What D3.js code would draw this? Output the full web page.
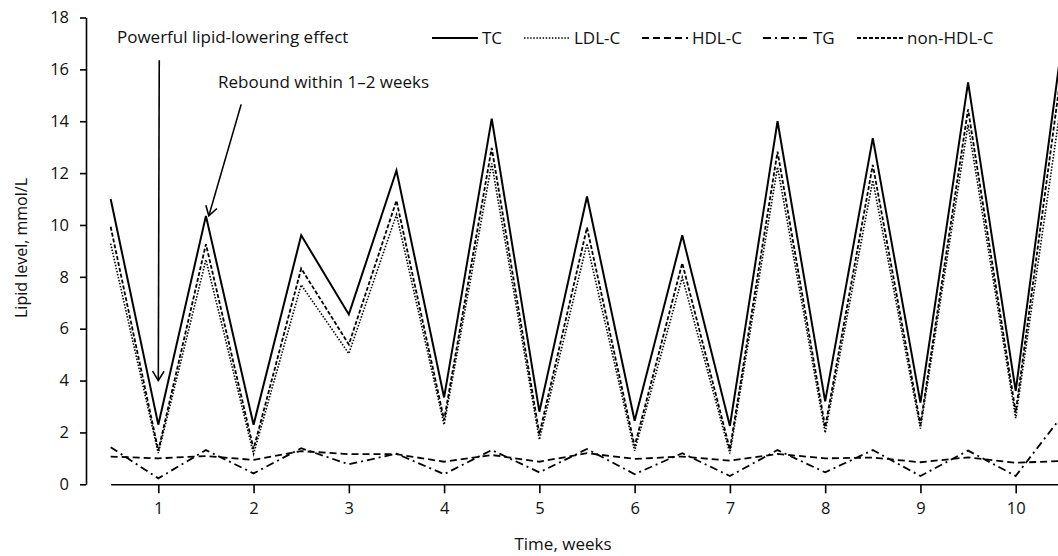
<!DOCTYPE html>
<html>
<head>
<meta charset="utf-8">
<script src="https://cdn.jsdelivr.net/npm/d3@7"></script>
<style>
  html, body { margin: 0; padding: 0; background: #fff; overflow: hidden; }
  svg { display: block; }
  text { font-family: "Open Sans", Lato, sans-serif; fill: #111; }
</style>
</head>
<body>
<svg id="chart" width="1058" height="556"></svg>
<script>
// ---- Data ----
const weeks = [0.5, 1, 1.5, 2, 2.5, 3, 3.5, 4, 4.5, 5, 5.5, 6, 6.5, 7, 7.5, 8, 8.5, 9, 9.5, 10, 10.5];
const tc     = [11.0, 2.3, 10.35, 2.3, 9.6, 6.55, 12.1, 3.35, 14.1, 2.8, 11.1, 2.45, 9.6, 2.25, 14.0, 3.2, 13.35, 3.15, 15.5, 3.6, 17.4];
const ldl    = [9.28, 1.2, 8.66, 1.17, 7.69, 5.04, 10.4, 2.3, 12.37, 1.72, 9.28, 1.29, 7.98, 1.19, 12.23, 1.99, 11.72, 2.15, 13.87, 2.55, 15.3];
const hdl    = [1.07, 1.0, 1.09, 0.94, 1.28, 1.16, 1.16, 0.87, 1.13, 0.87, 1.2, 0.98, 1.07, 0.91, 1.17, 1.0, 1.03, 0.85, 1.04, 0.83, 0.9];
const tg     = [1.43, 0.23, 1.32, 0.42, 1.39, 0.77, 1.18, 0.39, 1.32, 0.46, 1.36, 0.39, 1.2, 0.32, 1.32, 0.46, 1.32, 0.32, 1.3, 0.32, 2.7];
const nonHdl = [9.93, 1.3, 9.26, 1.36, 8.32, 5.39, 10.94, 2.48, 12.97, 1.93, 9.9, 1.47, 8.53, 1.34, 12.83, 2.2, 12.32, 2.3, 14.46, 2.77, 16.5];
const xTicks = [1, 2, 3, 4, 5, 6, 7, 8, 9, 10];
const yTicks = [0, 2, 4, 6, 8, 10, 12, 14, 16, 18];
const seriesNames = ["TC", "LDL-C", "HDL-C", "TG", "non-HDL-C"];

// annotations: [x (week), y (mmol/L)] anchors
const ann1 = { text: "Powerful lipid-lowering effect", tx: 0.566, ty: 17.0, from: [1.01, 16.35], to: [1.0, 4.0] };
const ann2 = { text: "Rebound within 1\u20132 weeks", tx: 1.627, ty: 15.28, from: [1.87, 14.65], to: [1.53, 10.35] };

// ---- Styles ----
const styles = {
  "TC":        { w: 2.0, dash: null },
  "LDL-C":     { w: 1.6, dash: "1.5,1.6" },
  "HDL-C":     { w: 1.8, dash: "7,4" },
  "TG":        { w: 1.8, dash: "8,4,2,4" },
  "non-HDL-C": { w: 1.8, dash: "4,2" }
};
const values = { "TC": tc, "LDL-C": ldl, "HDL-C": hdl, "TG": tg, "non-HDL-C": nonHdl };

const svg = d3.select("#chart");

const x = d3.scaleLinear().domain([1, 10]).range([158.3, 1015.7]);
const y = d3.scaleLinear().domain([0, 18]).range([484.3, 17.5]);

const tickFont = "16.5px";
const textFont = "17px";

// Y axis
const yAxisG = svg.append("g")
  .attr("transform", "translate(86,0)")
  .call(d3.axisLeft(y).tickValues(yTicks).tickSize(6).tickSizeOuter(0).tickPadding(11));
yAxisG.select(".domain").attr("stroke", "#000").attr("stroke-width", 1.6);
yAxisG.selectAll(".tick line").attr("stroke", "#000").attr("stroke-width", 1.6);
yAxisG.selectAll(".tick text").style("font-family", '"Open Sans", sans-serif').style("font-size", tickFont).attr("fill", "#111");

// X axis
const xAxisScale = d3.scaleLinear().domain([0.5, 10.5]).range([x(0.5), x(10.5)]);
const xAxisG = svg.append("g")
  .attr("transform", `translate(0,${y(0)})`)
  .call(d3.axisBottom(xAxisScale).tickValues(xTicks).tickSize(9).tickSizeOuter(0).tickPadding(9).tickFormat(d3.format("d")));
xAxisG.select(".domain").attr("stroke", "#000").attr("stroke-width", 1.6);
xAxisG.selectAll(".tick line").attr("stroke", "#000").attr("stroke-width", 1.6);
xAxisG.selectAll(".tick text").style("font-family", '"Open Sans", sans-serif').style("font-size", tickFont).attr("fill", "#111");

// Axis titles
svg.append("text")
  .attr("x", 563).attr("y", 550)
  .attr("text-anchor", "middle")
  .style("font-size", textFont)
  .text("Time, weeks");
svg.append("text")
  .attr("transform", `translate(27,${248}) rotate(-90)`)
  .attr("text-anchor", "middle")
  .style("font-size", "16px")
  .text("Lipid level, mmol/L");

// Lines
const line = d3.line().x((d, i) => x(weeks[i])).y(d => y(d));
const drawOrder = ["HDL-C", "TG", "LDL-C", "non-HDL-C", "TC"];
drawOrder.forEach(name => {
  const s = styles[name];
  svg.append("path")
    .datum(values[name])
    .attr("d", line)
    .attr("fill", "none")
    .attr("stroke", "#000")
    .attr("stroke-width", s.w)
    .attr("stroke-dasharray", s.dash)
    .attr("stroke-linejoin", "miter");
});

// Legend
const legendItems = [
  { name: "TC", x0: 432, x1: 478 },
  { name: "LDL-C", x0: 524, x1: 570 },
  { name: "HDL-C", x0: 642, x1: 688 },
  { name: "TG", x0: 763, x1: 809 },
  { name: "non-HDL-C", x0: 857, x1: 903 }
];
const legend = svg.append("g");
legendItems.forEach(it => {
  const s = styles[it.name];
  legend.append("line")
    .attr("x1", it.x0).attr("x2", it.x1)
    .attr("y1", 38).attr("y2", 38)
    .attr("stroke", "#000")
    .attr("stroke-width", s.w)
    .attr("stroke-dasharray", s.dash);
  legend.append("text")
    .attr("x", it.x1 + 4).attr("y", 44)
    .style("font-size", textFont)
    .text(it.name);
});

// Annotations
function arrow(a) {
  const x1 = x(a.from[0]), y1 = y(a.from[1]);
  const x2 = x(a.to[0]), y2 = y(a.to[1]);
  svg.append("line")
    .attr("x1", x1).attr("y1", y1).attr("x2", x2).attr("y2", y2)
    .attr("stroke", "#000").attr("stroke-width", 1.6);
  const ang = Math.atan2(y2 - y1, x2 - x1);
  const L = 11, spread = 0.55;
  const p1 = [x2 - L * Math.cos(ang - spread), y2 - L * Math.sin(ang - spread)];
  const p2 = [x2 - L * Math.cos(ang + spread), y2 - L * Math.sin(ang + spread)];
  svg.append("path")
    .attr("d", `M${p1[0]},${p1[1]}L${x2},${y2}L${p2[0]},${p2[1]}`)
    .attr("fill", "none").attr("stroke", "#000").attr("stroke-width", 1.6);
  svg.append("text")
    .attr("x", x(a.tx)).attr("y", y(a.ty))
    .style("font-size", textFont)
    .text(a.text);
}
arrow(ann1);
arrow(ann2);
</script>
</body>
</html>
